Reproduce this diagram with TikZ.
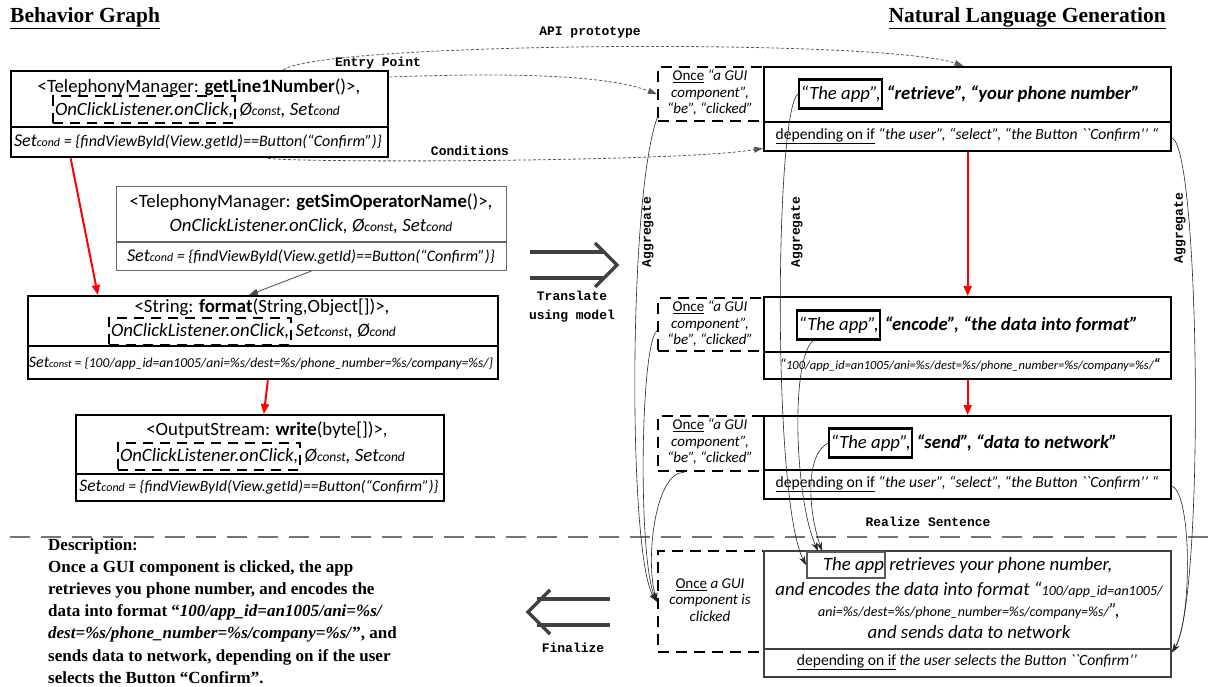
\documentclass[tikz,border=0pt]{standalone}
\usepackage{fontspec}
\setmainfont{Carlito}[Ligatures=TeXOff]
\newfontfamily\serifb{Liberation Serif}
\newfontfamily\monob{Liberation Mono}
\usetikzlibrary{arrows.meta,calc}
\newcommand\fsz[2]{\fontsize{#1}{#2}\selectfont}
\newcommand\sA[1]{{\fsz{13.5}{14}#1}}
\newcommand\sB[1]{{\fsz{12}{13}#1}}
\newcommand\sC[1]{{\fsz{10.5}{12}#1}}
\newcommand\bt{``}
\begin{document}
\begin{tikzpicture}[x=1pt, y=-1pt,
 bx/.style={draw, line width=2.3pt, inner sep=0pt},
 thinbx/.style={draw=black!60, line width=1pt, inner sep=0pt},
 dbx/.style={draw, line width=2.3pt, dash pattern=on 11pt off 7pt, inner sep=0pt},
 ibx/.style={draw, line width=2pt, dash pattern=on 10pt off 7pt, inner sep=2pt, minimum height=27pt},
 appb/.style={draw, line width=2.3pt, inner sep=1.5pt, minimum height=29pt},
 txt/.style={inner sep=0pt, align=center},
 conn/.style={draw=black!65, line width=0.8pt, dash pattern=on 3pt off 2pt, -{Triangle[length=9pt,width=6pt]}},
 agg/.style={draw=black!85, line width=0.6pt, -{Stealth[length=9pt,width=6pt]}},
 redarr/.style={draw=red, line width=2pt, -{Triangle[length=10pt,width=8pt]}},
 garr/.style={draw=black!70, line width=0.8pt, -{Triangle[length=9pt,width=6pt]}},
 bigarr/.style={draw=black!75, line width=3.5pt},
 lbl/.style={font=\monob\bfseries\fsz{13}{19}, inner sep=1pt},
 mainf/.style={font=\fsz{18.8}{22}},
 maini/.style={font=\fsz{18.8}{22}\itshape},
 botf/.style={font=\fsz{16}{18}\itshape},
 rf/.style={font=\fsz{18.7}{22}\itshape},
 rfb/.style={font=\fsz{18.7}{22}\bfseries\itshape},
 depf/.style={font=\fsz{15.6}{18}},
 smallf/.style={font=\fsz{15}{16.5}, align=center, inner sep=0pt},
]
\useasboundingbox (0,0) rectangle (1210,687);

% titles
\node[anchor=west, inner sep=0pt, font=\serifb\bfseries\fsz{21.5}{24}] (t1) at (10,18) {\underline{Behavior Graph}};
\node[anchor=east, inner sep=0pt, font=\serifb\bfseries\fsz{21.5}{24}] (t2) at (1166,18) {\underline{Natural Language Generation}};

% ---------- left: behavior graph ----------
\node[bx, anchor=north west, minimum width=377pt, minimum height=86pt] (b1) at (10,70) {};
\draw[line width=2.3pt] (b1.west |- 0,127) -- (b1.east |- 0,127);
\node[txt, mainf] (b1l1) at (199,87) {<TelephonyManager: \textbf{getLine1Number}()>,};
\node[ibx, anchor=west, maini] (b1d) at (52,110) {OnClickListener.onClick,};
\node[txt, anchor=west, maini] (b1l2) at (b1d.east) {\,Ø\sA{const}, Set\sA{cond}};
\node[txt, botf] (b1b) at (198,142) {{\fsz{18}{18}Set}\sB{cond} = \{findViewById(View.getId)==Button(“Confirm”)\}};

\node[thinbx, anchor=north west, minimum width=390pt, minimum height=84pt] (b2) at (116,186) {};
\draw[draw=black!60, line width=1pt] (b2.west |- 0,242) -- (b2.east |- 0,242);
\node[txt, mainf] (b2l1) at (311,202) {<TelephonyManager: \textbf{getSimOperatorName}()>,};
\node[txt, maini] (b2l2) at (311,226) {OnClickListener.onClick, Ø\sA{const}, Set\sA{cond}};
\node[txt, botf] (b2b) at (311,257) {{\fsz{18}{18}Set}\sB{cond} = \{findViewById(View.getId)==Button(“Confirm”)\}};

\node[bx, anchor=north west, minimum width=470pt, minimum height=83pt] (b3) at (27,295) {};
\draw[line width=2.3pt] (b3.west |- 0,346) -- (b3.east |- 0,346);
\node[txt, mainf] (b3l1) at (262,307) {<String: \textbf{format}(String,Object[])>,};
\node[ibx, anchor=west, maini] (b3d) at (108,331) {OnClickListener.onClick,};
\node[txt, anchor=west, maini] (b3l2) at (b3d.east) {\,Set\sA{const}, Ø\sA{cond}};
\node[txt, font=\fsz{13.6}{16}\itshape] (b3b) at (261,363) {{\fsz{16}{16}Set}\sC{const} = \{100/app\_id=an1005/ani=\%s/dest=\%s/phone\_number=\%s/company=\%s/\}};

\node[bx, anchor=north west, minimum width=368pt, minimum height=86pt] (b4) at (75,414) {};
\draw[line width=2.3pt] (b4.west |- 0,474) -- (b4.east |- 0,474);
\node[txt, mainf] (b4l1) at (267,430) {<OutputStream: \textbf{write}(byte[])>,};
\node[ibx, anchor=west, maini] (b4d) at (117,456) {OnClickListener.onClick,};
\node[txt, anchor=west, maini] (b4l2) at (b4d.east) {\,Ø\sA{const}, Set\sA{cond}};
\node[txt, font=\fsz{15.6}{18}\itshape] (b4b) at (259,487) {{\fsz{17.5}{18}Set}\sB{cond} = \{findViewById(View.getId)==Button(“Confirm”)\}};

\draw[redarr] ($(b1.south west)!0.16!(b1.south east)$) -- ($(b3.north west)!0.15!(b3.north east)$);
\draw[redarr] ($(b3.south west)!0.51!(b3.south east)$) -- ($(b4.north west)!0.51!(b4.north east)$);
\draw[garr] ($(b2.south west)!0.5!(b2.south east)$) -- ($(b3.north west)!0.47!(b3.north east)$);

% ---------- right: NLG ----------
\node[dbx, anchor=north west, minimum width=106pt, minimum height=54pt] (a1) at (657,66) {};
\node[bx, anchor=north west, minimum width=407pt, minimum height=84pt] (r1) at (763,66) {};
\draw[line width=2.3pt] (r1.west |- 0,122) -- (r1.east |- 0,122);
\node[smallf] (a1t) at (710,93) {\underline{Once} \textit{“a GUI}\\\textit{component”,}\\\textit{“be”, “clicked”}};
\node[appb, anchor=west, rf] (r1a) at (798,94) {“The app”,};
\node[txt, anchor=west, rfb] (r1t) at ($(r1a.east)+(3,0)$) {“retrieve”, “your phone number”};
\node[txt, depf] (r1b) at (967,136) {\underline{depending on if} \textit{“the user”, “select”, “the Button \bt Confirm’’ “}};

\node[dbx, anchor=north west, minimum width=106pt, minimum height=53pt] (a2) at (657,297) {};
\node[bx, anchor=north west, minimum width=407pt, minimum height=82pt] (r2) at (763,296) {};
\draw[line width=2.3pt] (r2.west |- 0,352) -- (r2.east |- 0,352);
\node[smallf] (a2t) at (710,324) {\underline{Once} \textit{“a GUI}\\\textit{component”,}\\\textit{“be”, “clicked”}};
\node[appb, anchor=west, rf] (r2a) at (796,325) {“The app”,};
\node[txt, anchor=west, rfb] (r2t) at ($(r2a.east)+(3,0)$) {“encode”, “the data into format”};
\node[txt, font=\fsz{12.5}{16}\itshape] (r2b) at (970,365) {{\fsz{15}{16}“}100/app\_id=an1005/ani=\%s/dest=\%s/phone\_number=\%s/company=\%s/{\fsz{15}{16}\bfseries“}};

\node[dbx, anchor=north west, minimum width=106pt, minimum height=55pt] (a3) at (657,415) {};
\node[bx, anchor=north west, minimum width=407pt, minimum height=83pt] (r3) at (763,415) {};
\draw[line width=2.3pt] (r3.west |- 0,470) -- (r3.east |- 0,470);
\node[smallf] (a3t) at (710,442) {\underline{Once} \textit{“a GUI}\\\textit{component”,}\\\textit{“be”, “clicked”}};
\node[appb, anchor=west, rf] (r3a) at (828,443) {“The app”,};
\node[txt, anchor=west, rfb] (r3t) at ($(r3a.east)+(3,0)$) {“send”, “data to network”};
\node[txt, depf] (r3b) at (967,484) {\underline{depending on if} \textit{“the user”, “select”, “the Button \bt Confirm’’ “}};

\draw[redarr] (r1.south) -- (r2.north);
\draw[redarr] (r2.south) -- (r3.north);

% realize separator
\draw[draw=black!55, line width=1.5pt, dash pattern=on 20pt off 11pt] (10,537) -- (1210,537);
\node[lbl] (lreal) at (928,522) {Realize Sentence};

\node[dbx, anchor=north west, minimum width=106pt, minimum height=101pt] (a4) at (657,550) {};
\node[draw=black!75, line width=2pt, inner sep=0pt, anchor=north west, minimum width=407pt, minimum height=126pt] (r4) at (763,550) {};
\draw[draw=black!75, line width=2pt] (r4.west |- 0,649) -- (r4.east |- 0,649);
\node[smallf] (a4t) at (710,600) {\underline{Once} \textit{a GUI}\\\textit{component is}\\\textit{clicked}};
\node[draw=black!65, line width=2pt, inner sep=1pt, minimum height=26pt, anchor=west, font=\fsz{18.8}{22}\itshape] (r4a) at (806,565) {\hspace{15pt}The app};
\node[txt, anchor=west, font=\fsz{18.8}{22}\itshape] (r4l1) at ($(r4a.east)+(3,0)$) {retrieves your phone number,};
\node[txt, font=\fsz{18.8}{21.5}\itshape] (r4t) at (969,610) {and encodes the data into format “{\fsz{14}{21.5}100/app\_id=an1005/}\\{\fsz{14}{21.5}ani=\%s/dest=\%s/phone\_number=\%s/company=\%s/}”,\\and sends data to network};
\node[txt, depf] (r4b) at (967,662) {\underline{depending on if} \textit{the user selects the Button \bt Confirm’’}};

% description
\node[anchor=north west, inner sep=0pt, align=left, font=\serifb\bfseries\fsz{17}{22.2}] (desc) at (48,538) {Description:\\
Once a GUI component is clicked, the app\\
retrieves you phone number, and encodes the\\
data into format “\textit{100/app\_id=an1005/ani=\%s/}\\
\textit{dest=\%s/phone\_number=\%s/company=\%s/}”, and\\
sends data to network, depending on if the user\\
selects the Button “Confirm”.};

% big arrows
\draw[bigarr] (530,252) -- (603,252) (530,278) -- (603,278);
\draw[bigarr] (595,243) -- (617,265) -- (595,287);
\node[lbl, align=center] (ltrans) at (572,307) {Translate\\using model};
\draw[bigarr] (537,599) -- (610,599) (537,625) -- (610,625);
\draw[bigarr] (550,590) -- (528,612) -- (550,634);
\node[lbl] (lfin) at (573,648) {Finalize};

% dashed connectors
\draw[conn] ($(b1.north west)!0.72!(b1.north east)$) .. controls (320,42) and (880,38) .. ($(r1.north west)!0.49!(r1.north east)$);
\node[lbl] (lapi) at (590,33) {API prototype};
\draw[conn] ($(b1.north east)!0.08!(b1.south east)$) .. controls (520,72) and (610,76) .. (a1.west);
\node[lbl] (lentry) at (378,63) {Entry Point};
\draw[conn] ($(b1.south west)!0.68!(b1.south east)$) .. controls (300,163) and (680,162) .. ($(r1.south west)+(0,-4)$);
\node[lbl] (lcond) at (470,151) {Conditions};

% aggregate curves
\draw[agg] ($(a1.south west)+(0,-4)$) .. controls (628,200) and (628,560) .. (a4.west);
\draw[agg] ($(a2.west)+(0,6)$) .. controls (640,345) and (638,560) .. (a4.west);
\draw[agg] ($(a3.south west)!0.25!(a3.south east)$) .. controls (655,472) and (645,560) .. (a4.west);
\node[lbl, rotate=90] (lag1) at (648,232) {Aggregate};

\draw[agg] (r1a.west) .. controls (775,110) and (772,500) .. (r4a.west);
\draw[agg] ($(r2a.south west)!0.2!(r2a.south east)$) .. controls (790,360) and (795,500) .. ($(r4a.north west)!0.15!(r4a.north east)$);
\draw[agg] (r3a.west) .. controls (805,455) and (808,510) .. ($(r4a.north west)!0.2!(r4a.north east)$);
\node[lbl, rotate=90] (lag2) at (797,232) {Aggregate};

\draw[agg] ($(r1.south east)+(0,-14)$) .. controls (1200,150) and (1205,600) .. ($(r4.north east)!0.8!(r4.south east)$);
\draw[agg] ($(r3.south east)+(0,-14)$) .. controls (1192,495) and (1192,620) .. ($(r4.north east)!0.8!(r4.south east)$);
\node[lbl, rotate=90] (lag3) at (1180,228) {Aggregate};
\end{tikzpicture}
\end{document}
